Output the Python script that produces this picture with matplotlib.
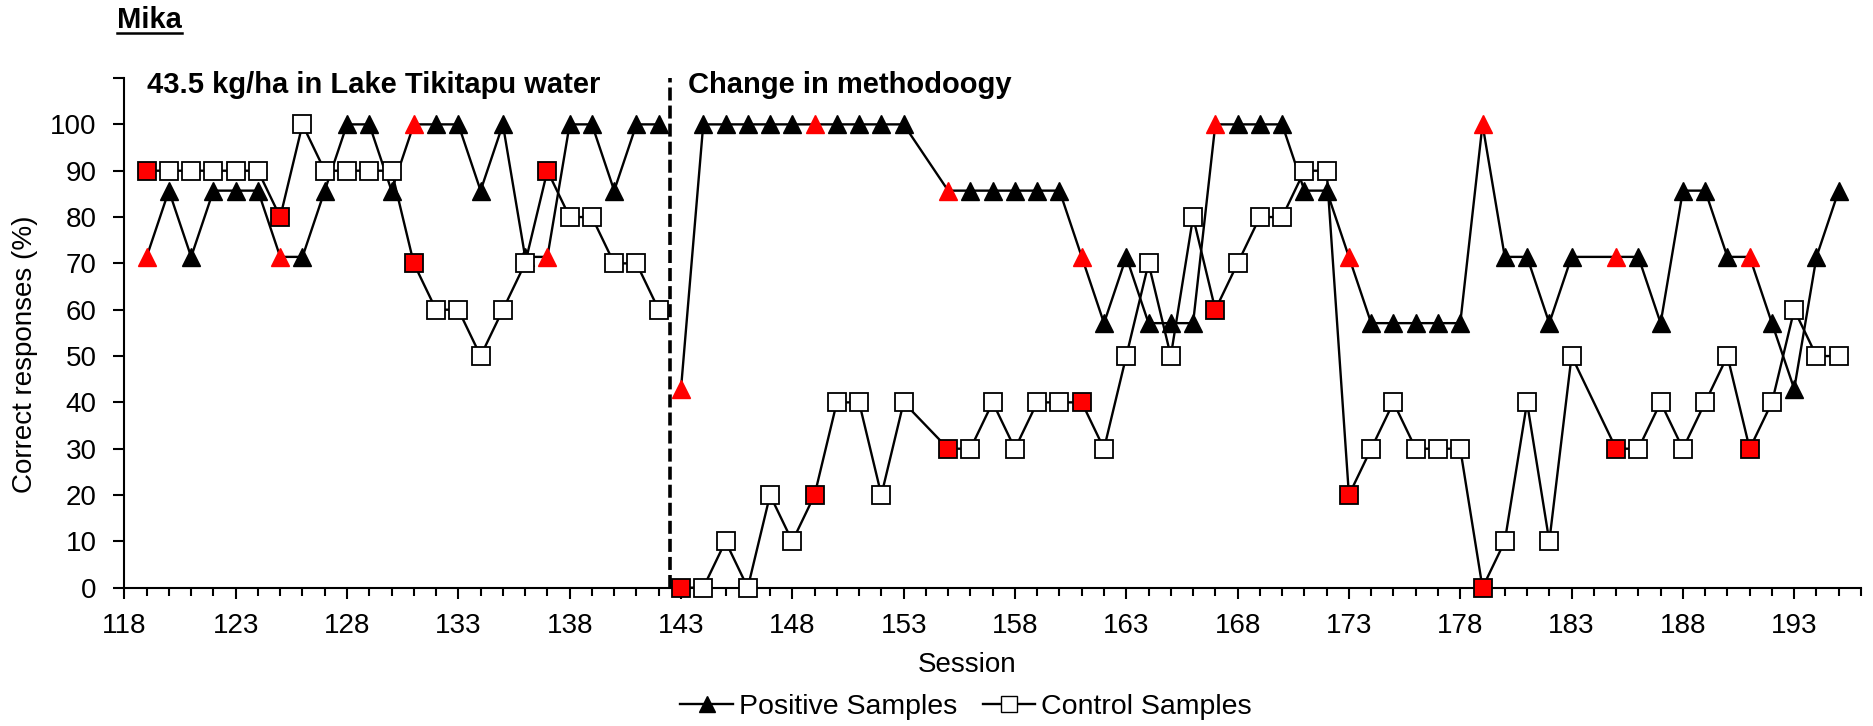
import matplotlib.pyplot as plt
import numpy as np
from matplotlib.lines import Line2D

plt.rcParams["font.family"] = ["Liberation Sans", "DejaVu Sans"]

## Data.
sessions = list(range(119, 196))
positive = [
    71.4, 85.7, 71.4, 85.7, 85.7, 85.7, 71.4, 71.4, 85.7, 100, 100, 85.7,
    100, 100, 100, 85.7, 100, 71.4, 71.4, 100, 100, 85.7, 100, 100,
    42.9, 100, 100, 100, 100, 100, 100, 100, 100, 100, 100, np.nan,
    85.7, 85.7, 85.7, 85.7, 85.7, 85.7, 71.4, 57.1, 71.4, 57.1, 57.1, 57.1,
    100, 100, 100, 100, 85.7, 85.7, 71.4, 57.1, 57.1, 57.1, 57.1, 57.1,
    100, 71.4, 71.4, 57.1, 71.4, np.nan, 71.4, 71.4, 57.1, 85.7, 85.7, 71.4,
    71.4, 57.1, 42.9, 71.4, 85.7,
]
control = [
    90, 90, 90, 90, 90, 90, 80, 100, 90, 90, 90, 90,
    70, 60, 60, 50, 60, 70, 90, 80, 80, 70, 70, 60,
    0, 0, 10, 0, 20, 10, 20, 40, 40, 20, 40, np.nan,
    30, 30, 40, 30, 40, 40, 40, 30, 50, 70, 50, 80,
    60, 70, 80, 80, 90, 90, 20, 30, 40, 30, 30, 30,
    0, 10, 40, 10, 50, np.nan, 30, 30, 40, 30, 40, 50,
    30, 40, 60, 50, 50,
]
# Sessions whose markers are shown in red.
red_sessions = [119, 125, 131, 137, 143, 149, 155, 161, 167, 173, 179, 185, 191]
method_change = 142.5

x = np.array(sessions)
pos = np.array(positive, dtype=float)
ctl = np.array(control, dtype=float)
is_red = np.isin(x, red_sessions)

## Chart.
fig = plt.figure(figsize=(18.73, 7.26), dpi=100)
ax = fig.add_axes([0.0664, 0.1905, 0.9272, 0.702])

# Lines are broken at the change in methodology, and joined across missing sessions.
for seg in (x < method_change, x > method_change):
    ok = seg & ~np.isnan(pos)
    ax.plot(x[ok], pos[ok], color="black", linewidth=1.7, zorder=2, clip_on=False)
    ok = seg & ~np.isnan(ctl)
    ax.plot(x[ok], ctl[ok], color="black", linewidth=1.7, zorder=3, clip_on=False)

ax.plot(x[~is_red], pos[~is_red], linestyle="none", marker="^", markersize=13,
        color="black", zorder=4, clip_on=False)
ax.plot(x[is_red], pos[is_red], linestyle="none", marker="^", markersize=13,
        color="red", markeredgecolor="red", zorder=4, clip_on=False)
ax.plot(x[~is_red], ctl[~is_red], linestyle="none", marker="s", markersize=13,
        markerfacecolor="white", markeredgecolor="black", markeredgewidth=1.3,
        zorder=5, clip_on=False)
ax.plot(x[is_red], ctl[is_red], linestyle="none", marker="s", markersize=13,
        markerfacecolor="red", markeredgecolor="black", markeredgewidth=1.3,
        zorder=5, clip_on=False)

ax.axvline(method_change, color="black", linewidth=2.6,
           linestyle=(0, (3.6, 1.4)), zorder=1)

ax.text(119, 108.5, "43.5 kg/ha in Lake Tikitapu water", fontsize=21,
        fontweight="bold", va="center", ha="left")
ax.text(143.3, 108.5, "Change in methodoogy", fontsize=21,
        fontweight="bold", va="center", ha="left")

# Axes.
ax.set_xlim(118, 196)
ax.set_ylim(0, 110)
ax.set_xticks(range(118, 197, 5))
ax.set_xticks(range(118, 197), minor=True)
ax.set_yticks(range(0, 111, 10))
ax.set_yticklabels([str(v) for v in range(0, 101, 10)] + [""])
ax.tick_params(axis="both", which="major", direction="out", length=8, width=1.5,
               labelsize=20)
ax.tick_params(axis="y", pad=12)
ax.tick_params(axis="x", pad=10)
ax.tick_params(axis="x", which="minor", direction="out", length=6, width=1.5)
for side in ("top", "right"):
    ax.spines[side].set_visible(False)
for side in ("left", "bottom"):
    ax.spines[side].set_linewidth(1.5)
    ax.spines[side].set_zorder(1.5)

ax.set_xlabel("Session", fontsize=20)
ax.xaxis.set_label_coords(0.485, -0.126)
ax.set_ylabel("Correct responses (%)", fontsize=20)
ax.yaxis.set_label_coords(-0.05, 0.458)

# Legend.
handles = [
    Line2D([], [], color="black", linewidth=1.7, marker="^", markersize=11,
           label="Positive Samples"),
    Line2D([], [], color="black", linewidth=1.7, marker="s", markersize=11,
           markerfacecolor="white", markeredgecolor="black", label="Control Samples"),
]
fig.legend(handles=handles, loc="center", bbox_to_anchor=(966 / 1873, 1 - 707 / 726),
           ncol=2, frameon=False, fontsize=20.5, handlelength=1.85,
           handletextpad=0.2, columnspacing=0.9)

# Underlined title.
title = fig.text(117 / 1873, 1 - 20 / 726, "Mika", fontsize=21, fontweight="bold",
                 ha="left", va="center")
renderer = fig.canvas.get_renderer()
bb = title.get_window_extent(renderer).transformed(fig.transFigure.inverted())
fig.add_artist(Line2D([bb.x0, bb.x1], [bb.y0 + 0.002, bb.y0 + 0.002],
                      color="black", linewidth=1.8, transform=fig.transFigure))

fig.savefig("out.png", dpi=100)
